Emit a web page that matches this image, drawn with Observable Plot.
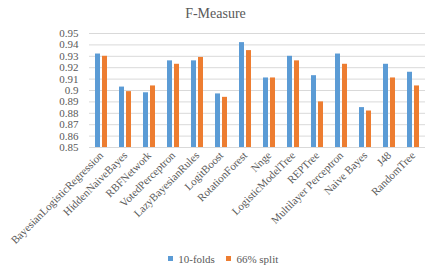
<!DOCTYPE html>
<html>
<head>
<meta charset="utf-8">
<script src="https://cdn.jsdelivr.net/npm/d3@7"></script>
<script src="https://cdn.jsdelivr.net/npm/@observablehq/plot@0.6"></script>
<style>
  html, body { margin: 0; padding: 0; background: #fff; }
  #wrap { width: 431px; font-family: "Liberation Serif", "Times New Roman", serif; }
  #title { height: 24px; line-height: 28px; text-align: center; font-size: 14px; color: #595959; }
  #legend { display: flex; justify-content: center; padding-left: 26px; margin-top: -8px; }
  #legend, #legend * { font-family: "Liberation Serif", "Times New Roman", serif !important; font-size: 11px !important; color: #595959 !important; }
</style>
</head>
<body>
<div id="wrap">
  <div id="title">F-Measure</div>
  <div id="chart"></div>
  <div id="legend"></div>
</div>
<script>
const categories = ["BayesianLogisticRegression", "HiddenNaiveBayes", "RBFNetwork", "VotedPerceptron",
  "LazyBayesianRules", "LogitBoost", "RotationForest", "Nnge", "LogisticModelTree", "REPTree",
  "Multilayer Perceptron", "Naive Bayes", "J48", "RandomTree"];
const seriesNames = ["10-folds", "66% split"];
const tenFolds = [0.932, 0.903, 0.898, 0.926, 0.926, 0.897, 0.942, 0.911, 0.930, 0.913, 0.932, 0.885, 0.923, 0.916];
const split66  = [0.930, 0.899, 0.904, 0.923, 0.929, 0.894, 0.935, 0.911, 0.926, 0.890, 0.923, 0.882, 0.911, 0.904];
const yTicks = [0.85, 0.86, 0.87, 0.88, 0.89, 0.90, 0.91, 0.92, 0.93, 0.94, 0.95];
const colors = ["#5B9BD5", "#ED7D31"];

const data = [];
categories.forEach((c, i) => {
  data.push({cat: c, series: seriesNames[0], value: tenFolds[i]});
  data.push({cat: c, series: seriesNames[1], value: split66[i]});
});
const yMin = yTicks[0], yMax = yTicks[yTicks.length - 1];

const chart = Plot.plot({
  width: 431,
  height: 226,
  marginTop: 9,
  marginLeft: 86,
  marginRight: 3,
  marginBottom: 103,
  style: {fontFamily: "'Liberation Serif', 'Times New Roman', serif", fontSize: "11px", color: "#595959", overflow: "visible"},
  fx: {domain: categories, padding: 0, axis: "bottom", tickRotate: -45, tickSize: 0, tickPadding: 6, label: null},
  x: {domain: seriesNames, axis: null, paddingInner: 0.35, paddingOuter: 0.88},
  y: {domain: [yMin, yMax], ticks: yTicks, tickSize: 0, tickPadding: 11, label: null,
      tickFormat: d => String(+d.toFixed(2))},
  color: {domain: seriesNames, range: colors},
  marks: [
    Plot.ruleY(yTicks, {stroke: "#d9d9d9", strokeWidth: 1}),
    Plot.barY(data, {fx: "cat", x: "series", y1: () => yMin, y2: "value", fill: "series"})
  ]
});
document.getElementById("chart").appendChild(chart);

const legend = Plot.legend({
  color: {domain: seriesNames, range: colors},
  swatchSize: 5,
  style: {marginLeft: "0px"}
});
document.getElementById("legend").appendChild(legend);
</script>
</body>
</html>
